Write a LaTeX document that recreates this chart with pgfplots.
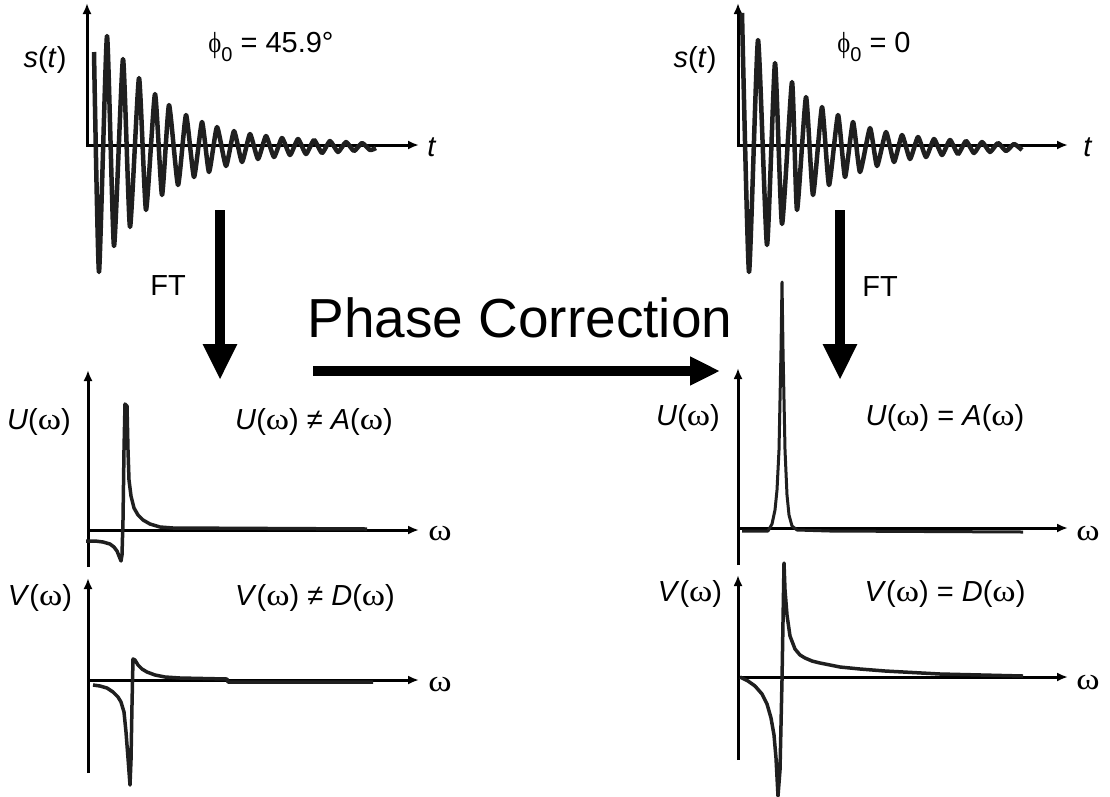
\documentclass[border=0pt]{standalone}
\usepackage{fontspec}
\setmainfont{Liberation Sans}
\newfontfamily\grk{Liberation Serif}
\usepackage{graphicx}
\usepackage{pgfplots}
\pgfplotsset{compat=1.18}
\usetikzlibrary{arrows.meta}
\newcommand{\w}{{\grk\scalebox{1.22}[1.05]{ω}}}
\newcommand{\phz}{{\grk\scalebox{0.85}[1]{ϕ}}\raisebox{-0.28em}{\fontsize{20}{20}\selectfont 0}}
\begin{document}
\begin{tikzpicture}
\begin{axis}[x=1pt,y=1pt, y dir=reverse, xmin=0,xmax=1110,ymin=0,ymax=796,
  hide axis, clip=false]
\coordinate (TL) at (axis cs:0,0);
\coordinate (BR) at (axis cs:1110,796);
% ---- axis lines
\tikzset{ax/.style={line width=3pt,-{Latex[length=11pt,width=9pt]}}}
\draw[ax] (87,146) -- (87,3);
\draw[ax] (86,145) -- (419,145);
\draw[ax] (738,146) -- (738,3);
\draw[ax] (737,145) -- (1068,145);
\draw[ax] (88,567) -- (88,370);
\draw[ax] (87,530) -- (419,530);
\draw[ax] (88,773) -- (88,578);
\draw[ax] (87,680) -- (419,680);
\draw[ax] (738,565) -- (738,368);
\draw[ax] (737,528) -- (1068,528);
\draw[ax] (738,760) -- (738,575);
\draw[ax] (737,677) -- (1068,677);
% ---- FIDs
\addplot[line width=4.5pt, black!88, line join=round, smooth, tension=0.3] coordinates {
(94,52)(99,272)(107,36)(114,246)(123,59)(130,227)(139,78)(146,210)(155,94)(162,195)
(169,105)(178,185)(186,115)(194,177)(202,122)(209,172)(217,127)(226,166)(234,131)
(242,162)(250,134)(258,159)(266,136)(274,157)(282,138)(290,155)(298,139)(306,154)
(314,140)(322,153)(330,141)(338,152)(346,142)(354,151)(362,143)(370,150)(376,148)};
\addplot[line width=4.5pt, black!88, line join=round, smooth, tension=0.3] coordinates {
(742,13)(749,272)(758,40)(767,245)(775,63)(782,224)(792,82)(797,210)(806,97)(813,195)
(822,107)(829,185)(838,115)(845,177)(853,122)(860,172)(870,128)(877,166)(886,132)
(894,162)(902,135)(910,159)(918,137)(926,157)(934,139)(942,155)(950,140)(958,154)
(966,141)(974,153)(982,142)(990,152)(998,143)(1006,151)(1014,144)(1022,150)};
% ---- spectra
\addplot[line width=3.5pt, black!88, line join=round] coordinates {
(86,541)(95,541)(103,542)(110,544)(114,547)(117,551)(119,556)(121,561)(122,555)
(123,520)(124,450)(125,404)(127,406)(128,450)(129,480)(131,496)(134,508)(138,515)
(143,520)(150,524)(160,527)(173,528)(367,529)};
\addplot[line width=3.5pt, black!88, line join=round] coordinates {
(93,685)(100,686)(107,688)(113,692)(118,697)(121,702)(124,712)(126,732)(128,758)
(130,785)(131,760)(132,705)(133,659)(135,660)(138,665)(142,669)(147,672)(155,675)
(165,677)(180,678)(227,679)(228,682)(373,682)};
\addplot[line width=3pt, black!88, line join=round] coordinates {
(742,531)(768,531)(772,524)(775,510)(777,490)(779,450)(781,350)(782,282)(783,350)
(785,450)(787,495)(789,515)(792,526)(797,530)(830,531)(1023,532)};
\addplot[line width=3.5pt, black!88, line join=round] coordinates {
(740,677)(748,681)(755,686)(762,694)(767,704)(771,718)(774,735)(776,758)(778,796)
(780,770)(782,680)(784,563)(785,590)(787,615)(790,636)(795,649)(800,655)(805,658)
(812,661)(820,663)(830,665)(840,667)(860,669)(885,671)(940,674)(1023,676)};
% ---- big arrows
\draw[line width=10pt,-{Triangle[length=36pt,width=32pt]}] (220,210) -- (220,380);
\draw[line width=10pt,-{Triangle[length=36pt,width=32pt]}] (840,210) -- (840,380);
\draw[line width=9.5pt,-{Triangle[length=30pt,width=27pt]}] (313,371) -- (720,371);
% ---- text
\tikzset{lab/.style={font=\fontsize{29}{32}\selectfont, inner sep=0pt}}
\node[lab] at (45,60) {\textit{s}(\textit{t})};
\node[lab] at (695,60) {\textit{s}(\textit{t})};
\node[lab] at (271,47) {\phz{} = 45.9°};
\node[lab] at (874,47) {\phz{} = 0};
\node[lab] at (432,147) {\textit{t}};
\node[lab] at (1088,147) {\textit{t}};
\node[lab] at (168,286) {FT};
\node[lab] at (880,287) {FT};
\node[font=\fontsize{55}{60}\selectfont, inner sep=0pt, anchor=base] at (520,337) {Phase Correction};
\node[lab] at (39,422) {\textit{U}(\w)};
\node[lab] at (314,422) {\textit{U}(\w) ≠ \textit{A}(\w)};
\node[lab] at (40,598) {\textit{V}(\w)};
\node[lab] at (315,598) {\textit{V}(\w) ≠ \textit{D}(\w)};
\node[lab] at (688,418) {\textit{U}(\w)};
\node[lab] at (945,418) {\textit{U}(\w) = \textit{A}(\w)};
\node[lab] at (690,594) {\textit{V}(\w)};
\node[lab] at (945,594) {\textit{V}(\w) = \textit{D}(\w)};
\node[lab] at (440,533) {\w};
\node[lab] at (440,684) {\w};
\node[lab] at (1088,533) {\w};
\node[lab] at (1088,682) {\w};
\end{axis}
\pgfresetboundingbox
\useasboundingbox (TL) rectangle (BR);
\end{tikzpicture}
\end{document}
